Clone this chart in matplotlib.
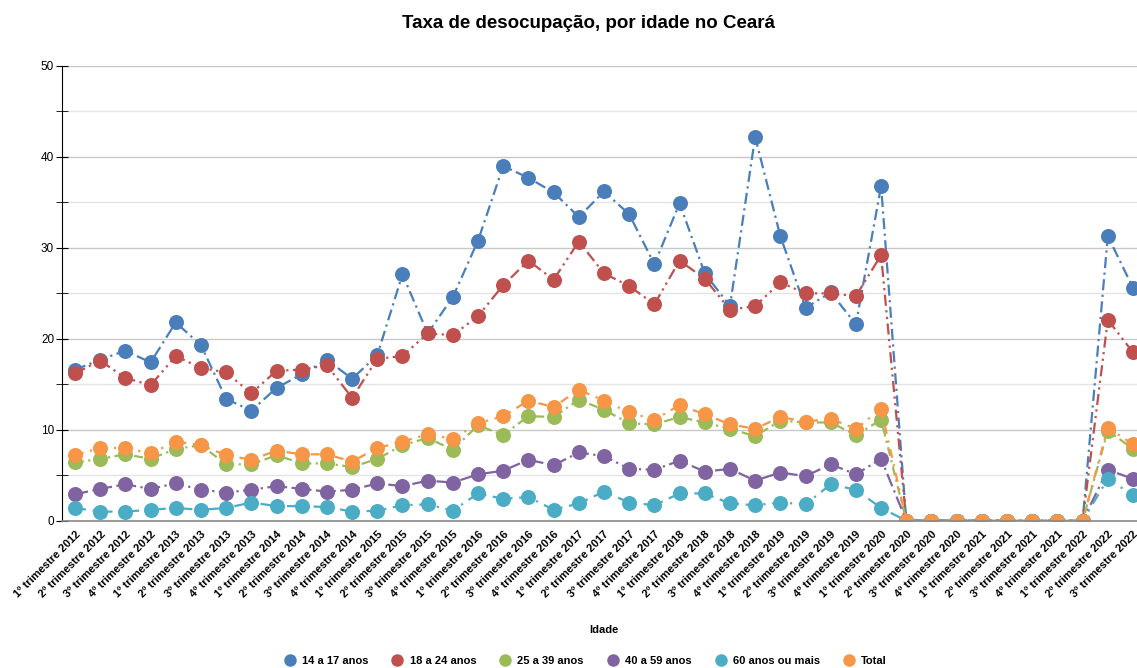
import matplotlib
matplotlib.use("Agg")
import matplotlib.pyplot as plt
from matplotlib.ticker import MultipleLocator

plt.rcParams["font.family"] = ["Liberation Sans", "DejaVu Sans"]

# quarters 1º trimestre 2012 .. 3º trimestre 2022
years = list(range(2012, 2023))
quarters = [f"{q}º trimestre {y}" for y in years for q in range(1, 5)][:43]

age_14_17 = [16.6, 17.7, 18.7, 17.4, 21.8, 19.3, 13.4, 12.1, 14.6, 16.1, 17.7, 15.6,
             18.2, 27.1, 20.6, 24.6, 30.8, 39.0, 37.7, 36.1, 33.4, 36.2, 33.7, 28.2,
             34.9, 27.2, 23.6, 42.2, 31.3, 23.4, 25.1, 21.6, 36.8,
             0, 0, 0, 0, 0, 0, 0, 0, 31.3, 25.6]
age_18_24 = [16.2, 17.6, 15.7, 14.9, 18.1, 16.8, 16.3, 14.0, 16.5, 16.6, 17.1, 13.5,
             17.8, 18.1, 20.6, 20.4, 22.5, 25.9, 28.6, 26.5, 30.7, 27.2, 25.8, 23.8,
             28.6, 26.6, 23.2, 23.6, 26.2, 25.0, 25.0, 24.7, 29.2,
             0, 0, 0, 0, 0, 0, 0, 0, 22.1, 18.5]
age_25_39 = [6.4, 6.8, 7.3, 6.8, 7.9, 8.3, 6.2, 6.2, 7.2, 6.3, 6.3, 5.9,
             6.8, 8.3, 9.1, 7.8, 10.5, 9.4, 11.5, 11.4, 13.3, 12.2, 10.7, 10.6,
             11.4, 10.8, 10.1, 9.3, 11.0, 10.8, 10.8, 9.4, 11.1,
             0, 0, 0, 0, 0, 0, 0, 0, 9.9, 7.9]
age_40_59 = [2.9, 3.5, 4.0, 3.5, 4.1, 3.4, 3.1, 3.4, 3.8, 3.5, 3.2, 3.4,
             4.1, 3.8, 4.4, 4.2, 5.1, 5.5, 6.7, 6.1, 7.5, 7.1, 5.7, 5.6,
             6.6, 5.4, 5.7, 4.4, 5.3, 4.9, 6.2, 5.1, 6.8,
             0, 0, 0, 0, 0, 0, 0, 0, 5.6, 4.6]
age_60_plus = [1.4, 1.0, 1.0, 1.2, 1.4, 1.2, 1.4, 2.0, 1.6, 1.6, 1.5, 1.0,
               1.1, 1.7, 1.8, 1.1, 3.0, 2.4, 2.6, 1.2, 1.9, 3.2, 2.0, 1.7,
               3.0, 3.0, 1.9, 1.7, 2.0, 1.8, 4.0, 3.4, 1.4,
               0, 0, 0, 0, 0, 0, 0, 0, 4.6, 2.8]
total = [7.2, 8.0, 8.0, 7.4, 8.7, 8.3, 7.2, 6.7, 7.7, 7.3, 7.3, 6.5,
         8.0, 8.7, 9.5, 9.0, 10.7, 11.5, 13.2, 12.5, 14.4, 13.2, 11.9, 11.1,
         12.7, 11.7, 10.6, 10.1, 11.4, 10.9, 11.2, 10.1, 12.3,
         0, 0, 0, 0, 0, 0, 0, 0, 10.2, 8.4]

series = [
    ("14 a 17 anos", age_14_17, "#4a7ebb", (5, 2, 1, 2)),
    ("18 a 24 anos", age_18_24, "#c0504d", (5, 2, 1, 2, 1, 2)),
    ("25 a 39 anos", age_25_39, "#9bbb59", (4, 2, 1, 2)),
    ("40 a 59 anos", age_40_59, "#8064a2", (6, 2, 1, 2)),
    ("60 anos ou mais", age_60_plus, "#4bacc6", (5, 3, 1, 3)),
    ("Total", total, "#f79646", (4, 3, 1, 3)),
]

fig = plt.figure(figsize=(11.37, 6.68), dpi=100)
# plot area runs past the right edge, as in the original export
ax = fig.add_axes([62.4 / 1137, 147.3 / 668, 1083.2 / 1137, 454.7 / 668])

x = list(range(len(quarters)))
for label, vals, color, dashes in series:
    ax.plot(x, vals, color=color, lw=1.6, dashes=dashes, marker="o",
            markersize=10.8, markeredgewidth=0, label=label)

ax.set_xlim(-0.5, len(quarters) - 0.5)
ax.set_ylim(0, 50)
ax.yaxis.set_major_locator(MultipleLocator(10))
ax.yaxis.set_minor_locator(MultipleLocator(5))
ax.grid(which="major", axis="y", color="#c8c8c8", lw=1)
ax.grid(which="minor", axis="y", color="#e4e4e4", lw=1)
ax.set_axisbelow(True)

for side in ("top", "right"):
    ax.spines[side].set_visible(False)
ax.spines["left"].set_color("black")
ax.spines["bottom"].set_color("#888888")
ax.spines["bottom"].set_linewidth(1.2)

ax.tick_params(axis="y", which="both", direction="inout", length=8, labelsize=8.5, pad=2)
ax.tick_params(axis="x", length=0, pad=6)
ax.set_xticks(x)
ax.set_xticklabels(quarters, rotation=45, ha="right", va="top",
                   rotation_mode="anchor", fontsize=8, fontweight="bold")

ax.set_xlabel("Idade", fontsize=8, fontweight="bold", labelpad=10)
ax.xaxis.set_label_coords((604 - 62.4) / 1083.2, -(625 - 520.7) / 454.7)

fig.text(589 / 1137, 1 - 23 / 668, "Taxa de desocupação, por idade no Ceará",
         ha="center", va="center", fontsize=13.5, fontweight="bold")

handles = [plt.Line2D([], [], ls="none", marker="o", markersize=9, color=c,
                      markeredgewidth=0) for _, _, c, _ in series]
fig.legend(handles, [s[0] for s in series], loc="center",
           bbox_to_anchor=(585 / 1137, 1 - 661 / 668), ncol=6, frameon=False,
           prop={"size": 8, "weight": "bold"}, handletextpad=0.5,
           columnspacing=2.0, handlelength=1.2)

fig.savefig("out.png", dpi=100)
